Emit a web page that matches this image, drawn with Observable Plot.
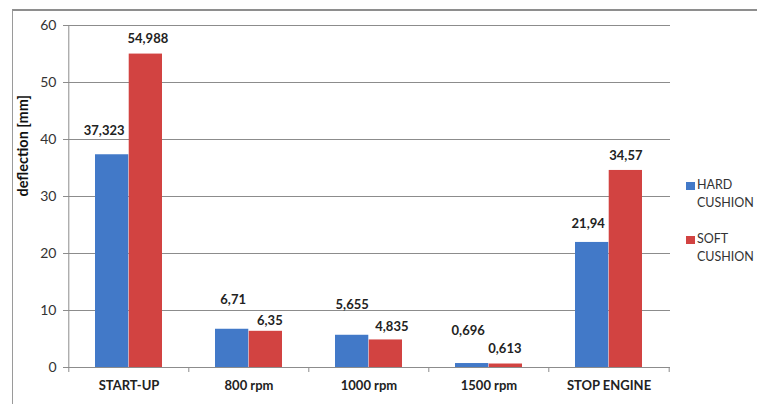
<!DOCTYPE html>
<html>
<head>
<meta charset="utf-8">
<script src="https://cdn.jsdelivr.net/npm/d3@7"></script>
<script src="https://cdn.jsdelivr.net/npm/@observablehq/plot@0.6"></script>
<style>
  body { margin: 0; background: #fff; }
  #chart { position: relative; width: 757px; height: 404px; font-family: Lato, "Open Sans", sans-serif; overflow: hidden; }
  #border { position: absolute; left: 12px; top: 9px; right: -2px; bottom: -2px;
            border-top: 2px solid #8e8e8e; border-left: 1px solid #9a9a9a; }
  #chart svg { position: absolute; left: 0; top: 0; }
  #legend { position: absolute; left: 686px; top: 176px; font-size: 12.5px; color: #333; line-height: 18px; }
  #legend .item { position: relative; padding-left: 11px; margin-bottom: 18px; }
  #legend .sw { position: absolute; left: 0; top: 6px; width: 9px; height: 8px; }
</style>
</head>
<body>
<div id="chart"><div id="border"></div></div>
<script>
// Deflection per operating state, two cushion types
const categories = ["START-UP", "800 rpm", "1000 rpm", "1500 rpm", "STOP ENGINE"];
const hardCushion = [37.323, 6.71, 5.655, 0.696, 21.94];
const softCushion = [54.988, 6.35, 4.835, 0.613, 34.57];
const seriesNames = ["HARD CUSHION", "SOFT CUSHION"];
const yTicks = [0, 10, 20, 30, 40, 50, 60];
const yTitle = "deflection [mm]";

const colors = {"HARD CUSHION": "#4279c8", "SOFT CUSHION": "#d24341"};

const rows = categories.flatMap((c, i) => [
  {category: c, series: seriesNames[0], value: hardCushion[i]},
  {category: c, series: seriesNames[1], value: softCushion[i]}
]);

// layout
const W = 757, H = 404, ml = 68, mr = 87, mt = 25, mb = 37;
const padIn = 0.44, padOut = 0.22;
const step = (W - ml - mr) / (categories.length - padIn + 2 * padOut);
const bw = step * (1 - padIn);
const pxPerUnit = (H - mt - mb) / 60;

// hand-placed value label offsets [dx, dy] in px, like the spreadsheet's dragged labels
const labelNudge = {
  "HARD CUSHION": [[-8, -24], [1, -29], [0, -30], [-4, -33], [-4, -19]],
  "SOFT CUSHION": [[2, -15], [4, -10], [6, -13], [-1, -15], [0, -15]]
};

const fmt = v => String(v).replace(".", ",");

const labelMarks = rows.map(d => {
  const i = categories.indexOf(d.category);
  const [nx, ny] = labelNudge[d.series][i];
  const side = d.series === seriesNames[0] ? -1 : 1;
  return Plot.text([d], {
    x: "category", y: "value", text: d => fmt(d.value),
    dx: side * bw / 4 + nx, dy: ny,
    fontWeight: "bold", fontSize: 13, fill: "#222"
  });
});

const chart = Plot.plot({
  width: W, height: H,
  marginLeft: ml, marginRight: mr, marginTop: mt, marginBottom: mb,
  style: {fontFamily: "Lato, 'Open Sans', sans-serif", fontSize: "13px", color: "#333", background: "transparent"},
  x: {type: "band", domain: categories, paddingInner: padIn, paddingOuter: padOut, axis: null},
  y: {domain: [0, 60], axis: null},
  marks: [
    Plot.ruleY(yTicks, {stroke: "#8c8c8c", strokeWidth: 1}),
    // value axis line
    Plot.ruleX([categories[0]], {x: d => d, dx: -step / 2, y1: 0, y2: 60, stroke: "#8c8c8c"}),
    // category boundary ticks
    Plot.ruleX(categories, {x: d => d, dx: -step / 2, y1: 0, y2: -5 / pxPerUnit, stroke: "#8c8c8c"}),
    Plot.ruleX([categories[categories.length - 1]], {x: d => d, dx: step / 2, y1: 0, y2: -5 / pxPerUnit, stroke: "#8c8c8c"}),
    Plot.barY(rows.filter(d => d.series === seriesNames[0]), {x: "category", y: "value", fill: d => colors[d.series], insetRight: bw / 2}),
    Plot.barY(rows.filter(d => d.series === seriesNames[1]), {x: "category", y: "value", fill: d => colors[d.series], insetLeft: bw / 2}),
    ...labelMarks,
    Plot.axisY(yTicks, {tickSize: 5, tickPadding: 7, stroke: "#8c8c8c", fill: "#333", fontSize: 14, label: null}),
    // rotated value-axis title
    Plot.text([yTitle], {frameAnchor: "left", rotate: -90, dx: -45, text: d => d,
      fontWeight: "bold", fontSize: 14.5, fill: "#111"}),
    Plot.axisX({tickSize: 0, tickPadding: 13, fontWeight: "bold", fontSize: 13, fill: "#222", label: null})
  ]
});

document.getElementById("chart").appendChild(chart);

// legend
const legend = document.createElement("div");
legend.id = "legend";
seriesNames.forEach(name => {
  const item = document.createElement("div");
  item.className = "item";
  const sw = document.createElement("span");
  sw.className = "sw";
  sw.style.background = colors[name];
  item.appendChild(sw);
  const [a, b] = name.split(" ");
  item.appendChild(document.createTextNode(a));
  item.appendChild(document.createElement("br"));
  item.appendChild(document.createTextNode(b));
  legend.appendChild(item);
});
document.getElementById("chart").appendChild(legend);
</script>
</body>
</html>
